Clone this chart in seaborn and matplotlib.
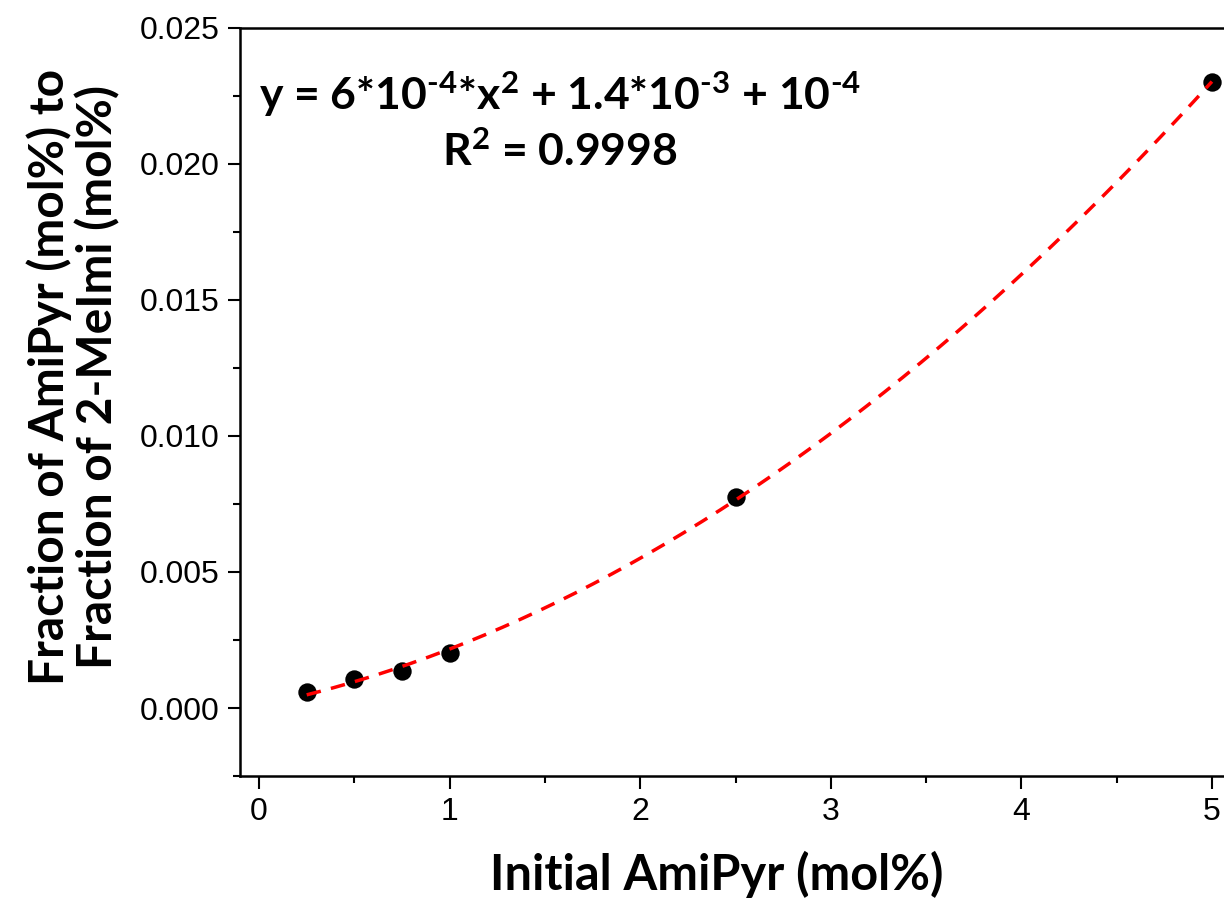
import numpy as np
import pandas as pd
import matplotlib
matplotlib.use("Agg")
import matplotlib.pyplot as plt
from matplotlib.ticker import MultipleLocator
import seaborn as sns

# Data
initial_amipyr = [0.25, 0.5, 0.75, 1.0, 2.5, 5.0]
fraction_ratio = [0.00059, 0.00107, 0.00136, 0.00203, 0.00776, 0.02301]

x_ticks = [0, 1, 2, 3, 4, 5]
y_ticks = [0.000, 0.005, 0.010, 0.015, 0.020, 0.025]
y_tick_labels = ["0.000", "0.005", "0.010", "0.015", "0.020", "0.025"]

eq_line1 = "y = 6*10$^{\u2010 4}$*x$^{2}$ + 1.4*10$^{\u2010 3}$ + 10$^{\u2010 4}$"
eq_line2 = r"R$^{2}$ = 0.9998"
x_label = "Initial AmiPyr (mol%)"
y_label = "Fraction of AmiPyr (mol%) to\nFraction of 2-MeImi (mol%)"

sns.set_style("ticks")
plt.rcParams["font.family"] = ["Liberation Sans", "DejaVu Sans"]
plt.rcParams["text.color"] = "black"
plt.rcParams["axes.labelcolor"] = "black"
plt.rcParams["mathtext.fontset"] = "custom"
plt.rcParams["mathtext.rm"] = "Lato:bold"
plt.rcParams["mathtext.it"] = "Lato:bold"
plt.rcParams["mathtext.bf"] = "Lato:bold"
plt.rcParams["mathtext.default"] = "rm"

df = pd.DataFrame({"x": initial_amipyr, "y": fraction_ratio})

# quadratic fit of the data
coef = np.polyfit(df["x"], df["y"], 2)
xf = np.linspace(min(initial_amipyr), max(initial_amipyr), 200)
fit_df = pd.DataFrame({"x": xf, "y": np.polyval(coef, xf)})

W, H = 1224, 898
fig = plt.figure(figsize=(W / 100, H / 100), dpi=100)
left, right, top, bottom = 240, 1231, 28, 776
ax = fig.add_axes([left / W, 1 - bottom / H, (right - left) / W, (bottom - top) / H])

sns.scatterplot(data=df, x="x", y="y", ax=ax, color="black", s=175,
                edgecolor="black", linewidth=0, zorder=2)
sns.lineplot(data=fit_df, x="x", y="y", ax=ax, color="#ff0000", linewidth=2.5,
             linestyle=(0, (4.2, 3.0)), zorder=3)

ax.set_xlim(-0.1, 5.1)
ax.set_ylim(-0.0025, 0.025)
ax.set_xticks(x_ticks)
ax.set_yticks(y_ticks)
ax.set_yticklabels(y_tick_labels)
ax.xaxis.set_minor_locator(MultipleLocator(0.5))
ax.yaxis.set_minor_locator(MultipleLocator(0.0025))
ax.tick_params(axis="both", which="major", direction="out", length=9, width=1.5,
               labelsize=23, color="black", labelcolor="black", pad=6)
ax.tick_params(axis="both", which="minor", direction="out", length=5, width=1.5,
               color="black")
ax.tick_params(top=False, right=False, which="both")

for side in ["left", "bottom", "top", "right"]:
    ax.spines[side].set_visible(True)
    ax.spines[side].set_linewidth(1.8)
    ax.spines[side].set_color("black")

ax.set_xlabel(x_label, fontsize=35, fontweight="bold", family="Lato")
ax.xaxis.set_label_coords((717 - left) / (right - left), -0.1)
ax.set_ylabel(y_label, fontsize=34.5, fontweight="bold", family="Lato",
              linespacing=1.08)
ax.yaxis.set_label_coords((120 - left) / (right - left), 0.533)

ax.text(0.323, 0.912, eq_line1, transform=ax.transAxes, ha="center", va="center",
        fontsize=32, fontweight="bold", family="Lato")
ax.text(0.323, 0.834, eq_line2, transform=ax.transAxes, ha="center", va="center",
        fontsize=32, fontweight="bold", family="Lato")

fig.savefig("out.png", dpi=100)
